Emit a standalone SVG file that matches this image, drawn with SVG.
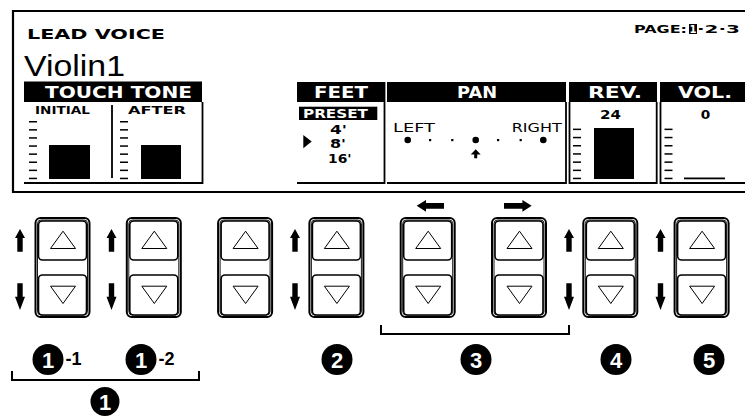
<svg xmlns="http://www.w3.org/2000/svg" xmlns:xlink="http://www.w3.org/1999/xlink" width="745" height="416" viewBox="0 0 745 416">
<style>
.lcd{font-family:"DejaVu Sans","Liberation Sans",sans-serif;font-weight:bold;fill:#000}
.wt{fill:#fff}
.ln{stroke:#000;fill:none}
.lbl{font-family:"Liberation Sans",Arial,sans-serif;font-weight:bold}
.cn{fill:#000}
.cd{fill:#fff;font-family:"Liberation Sans",Arial,sans-serif;font-weight:bold;font-size:22px;text-anchor:middle}
</style>
<defs>
<g id="btn">
<rect x="1" y="1" width="54" height="99" rx="5" fill="#fff" stroke="#000" stroke-width="2"/>
<rect x="3" y="3" width="50" height="95" rx="3.5" fill="none" stroke="#000" stroke-width="0.9"/>
<rect x="4" y="4" width="48" height="39" rx="4" fill="#fff" stroke="#000" stroke-width="1.6"/>
<rect x="4" y="58" width="48" height="40" rx="4" fill="#fff" stroke="#000" stroke-width="1.6"/>
<polygon points="16,31.5 41,31.5 28.5,14.2" fill="none" stroke="#000" stroke-width="1"/>
<polygon points="16,69.2 41,69.2 28.5,86.5" fill="none" stroke="#000" stroke-width="1"/>
</g>
<path id="aup" d="M0,0 L5,9 L2.7,9 L2.7,22.7 L-2.7,22.7 L-2.7,9 L-5,9 Z" fill="#000"/>
<path id="adn" d="M-2.7,0 L2.7,0 L2.7,13.5 L5,13.5 L0,26.7 L-5,13.5 L-2.7,13.5 Z" fill="#000"/>
<g id="tick8">
<rect x="0" y="121" width="8" height="1.5"/><rect x="0" y="129.1" width="8" height="1.5"/><rect x="0" y="137.2" width="8" height="1.5"/><rect x="0" y="145.3" width="8" height="1.5"/><rect x="0" y="153.4" width="8" height="1.5"/><rect x="0" y="161.5" width="8" height="1.5"/><rect x="0" y="169.6" width="8" height="1.5"/><rect x="0" y="177.7" width="8" height="1.5"/>
</g>
<g id="tick7">
<rect x="0" y="128.6" width="8" height="1.5"/><rect x="0" y="136.8" width="8" height="1.5"/><rect x="0" y="145" width="8" height="1.5"/><rect x="0" y="153.2" width="8" height="1.5"/><rect x="0" y="161.4" width="8" height="1.5"/><rect x="0" y="169.6" width="8" height="1.5"/><rect x="0" y="177.7" width="8" height="1.5"/>
</g>
</defs>
<rect width="745" height="416" fill="#fff"/>

<g id="lcd">
<path class="ln" d="M746,11 H13 V192 H746" stroke-width="2.2"/>
<text class="lcd" x="27" y="39" font-size="14" textLength="138" lengthAdjust="spacingAndGlyphs">LEAD VOICE</text>
<text x="24" y="76" font-family="Liberation Sans,Arial,sans-serif" font-size="29" textLength="101" lengthAdjust="spacingAndGlyphs">Violin1</text>
<text class="lcd" x="634" y="33" font-size="11" textLength="53" lengthAdjust="spacingAndGlyphs">PAGE:</text>
<rect x="689" y="24" width="8" height="10" fill="#000"/>
<text class="lcd wt" x="689.5" y="33" font-size="11" textLength="7" lengthAdjust="spacingAndGlyphs">1</text>
<text class="lcd" x="697" y="33" font-size="11" textLength="43" lengthAdjust="spacingAndGlyphs">·2·3</text>

<g id="touchtone">
<rect x="24" y="81.5" width="178" height="20.5" fill="#000"/>
<text class="lcd wt" x="45" y="97.5" font-size="15.5" textLength="147" lengthAdjust="spacingAndGlyphs">TOUCH TONE</text>
<path class="ln" d="M24,183 H202.5 V102 M112,105 V178" stroke-width="1.8"/>
<text class="lcd" x="35" y="113.5" font-size="10.5" textLength="55" lengthAdjust="spacingAndGlyphs">INITIAL</text>
<text class="lcd" x="128" y="113.5" font-size="10.5" textLength="58" lengthAdjust="spacingAndGlyphs">AFTER</text>
<use xlink:href="#tick8" x="29"/>
<use xlink:href="#tick8" x="120"/>
<rect x="49" y="145" width="41" height="34" fill="#000"/>
<rect x="141" y="145" width="40" height="34" fill="#000"/>
</g>

<g id="feet">
<rect x="297" y="82" width="87" height="20" fill="#000"/>
<text class="lcd wt" x="314" y="97.5" font-size="15.5" textLength="54" lengthAdjust="spacingAndGlyphs">FEET</text>
<path class="ln" d="M297,183 H384.5 V82" stroke-width="1.8"/>
<rect x="299" y="106.7" width="78.3" height="13.3" fill="#000"/>
<text class="lcd wt" x="303" y="118" font-size="13" textLength="65" lengthAdjust="spacingAndGlyphs">PRESET</text>
<text class="lcd" x="330" y="133.5" font-size="12" textLength="17" lengthAdjust="spacingAndGlyphs">4'</text>
<text class="lcd" x="330" y="148" font-size="12" textLength="16" lengthAdjust="spacingAndGlyphs">8'</text>
<text class="lcd" x="328" y="162.5" font-size="12" textLength="23.5" lengthAdjust="spacingAndGlyphs">16'</text>
<polygon points="303.3,135 311.7,141.6 303.3,148.3" fill="#000"/>
</g>

<g id="pan">
<rect x="387" y="82" width="179" height="20" fill="#000"/>
<text class="lcd wt" x="457" y="97.5" font-size="15.5" textLength="40" lengthAdjust="spacingAndGlyphs">PAN</text>
<path class="ln" d="M387,183 H566 V102" stroke-width="1.8"/>
<text x="393" y="132" font-family="DejaVu Sans,sans-serif" font-size="12" textLength="42" lengthAdjust="spacingAndGlyphs">LEFT</text>
<text x="511.7" y="131.7" font-family="DejaVu Sans,sans-serif" font-size="12" textLength="50" lengthAdjust="spacingAndGlyphs">RIGHT</text>
<circle cx="407.7" cy="140" r="3.3"/>
<circle cx="475.7" cy="140" r="3.3"/>
<circle cx="543.3" cy="140" r="3.3"/>
<rect x="429" y="139" width="2.2" height="2.2"/>
<rect x="451.2" y="139" width="2.2" height="2.2"/>
<rect x="497" y="139" width="2.2" height="2.2"/>
<rect x="519.6" y="139" width="2.2" height="2.2"/>
<path d="M475.7,149.3 L480.7,154.5 L477.2,154.5 L477.2,158.3 L474.2,158.3 L474.2,154.5 L470.7,154.5 Z" fill="#000"/>
</g>

<g id="rev">
<rect x="569" y="82" width="88" height="20" fill="#000"/>
<text class="lcd wt" x="588" y="97.5" font-size="15.5" textLength="54" lengthAdjust="spacingAndGlyphs">REV.</text>
<path class="ln" d="M569.5,102 V183 H656.7 V102" stroke-width="1.8"/>
<text class="lcd" x="600" y="119" font-size="11.5" textLength="21" lengthAdjust="spacingAndGlyphs">24</text>
<use xlink:href="#tick7" x="573"/>
<rect x="594" y="128" width="40" height="51" fill="#000"/>
</g>

<g id="vol">
<rect x="660" y="82" width="86" height="20" fill="#000"/>
<text class="lcd wt" x="678" y="97.5" font-size="15.5" textLength="54" lengthAdjust="spacingAndGlyphs">VOL.</text>
<path class="ln" d="M660.5,102 V183 H746" stroke-width="1.8"/>
<text class="lcd" x="700.7" y="119" font-size="11.5" textLength="9.5" lengthAdjust="spacingAndGlyphs">0</text>
<use xlink:href="#tick7" x="664.5"/>
<rect x="684" y="177.5" width="41" height="1.8" fill="#000"/>
</g>
</g>

<g id="button1" transform="translate(34.5,217)"><use xlink:href="#btn"/></g>
<g id="button2" transform="translate(125.8,217)"><use xlink:href="#btn"/></g>
<g id="button3" transform="translate(217.1,217)"><use xlink:href="#btn"/></g>
<g id="button4" transform="translate(308.4,217)"><use xlink:href="#btn"/></g>
<g id="button5" transform="translate(399.7,217)"><use xlink:href="#btn"/></g>
<g id="button6" transform="translate(491,217)"><use xlink:href="#btn"/></g>
<g id="button7" transform="translate(582.3,217)"><use xlink:href="#btn"/></g>
<g id="button8" transform="translate(673.6,217)"><use xlink:href="#btn"/></g>

<g id="connectors">
<use xlink:href="#aup" x="20" y="229"/><use xlink:href="#adn" x="20" y="283.3"/>
<use xlink:href="#aup" x="111.5" y="229"/><use xlink:href="#adn" x="111.5" y="283.3"/>
<use xlink:href="#aup" x="295" y="229"/><use xlink:href="#adn" x="295" y="283.3"/>
<use xlink:href="#aup" x="569" y="229"/><use xlink:href="#adn" x="569" y="283.3"/>
<use xlink:href="#aup" x="660.5" y="229"/><use xlink:href="#adn" x="660.5" y="283.3"/>
<path d="M416.7,205.8 L426,200 L426,203 L444,203 L444,208.7 L426,208.7 L426,211.7 Z" fill="#000"/>
<path d="M531.7,205.8 L522.4,200 L522.4,203 L504,203 L504,208.7 L522.4,208.7 L522.4,211.7 Z" fill="#000"/>
<path class="ln" d="M12,371 V380 H199 V371" stroke-width="2"/>
<path class="ln" d="M381,325 V334 H569 V325" stroke-width="2"/>
</g>

<g id="label1-1"><circle class="cn" cx="48" cy="359.5" r="15.5"/><text class="cd" x="48" y="367.5">1</text><text class="lbl" x="65.5" y="365" font-size="18">-1</text></g>
<g id="label1-2"><circle class="cn" cx="141" cy="359.5" r="15.5"/><text class="cd" x="141" y="367.5">1</text><text class="lbl" x="158.5" y="365" font-size="18">-2</text></g>
<g id="label2"><circle class="cn" cx="337" cy="359.5" r="15.5"/><text class="cd" x="337" y="367.5">2</text></g>
<g id="label3"><circle class="cn" cx="476" cy="359.5" r="15.5"/><text class="cd" x="476" y="367.5">3</text></g>
<g id="label4"><circle class="cn" cx="616" cy="359.5" r="15.5"/><text class="cd" x="616" y="367.5">4</text></g>
<g id="label5"><circle class="cn" cx="709" cy="359.5" r="15.5"/><text class="cd" x="709" y="367.5">5</text></g>
<g id="label1"><circle class="cn" cx="105" cy="401.5" r="14.5"/><text class="cd" x="105" y="409.5">1</text></g>
</svg>
